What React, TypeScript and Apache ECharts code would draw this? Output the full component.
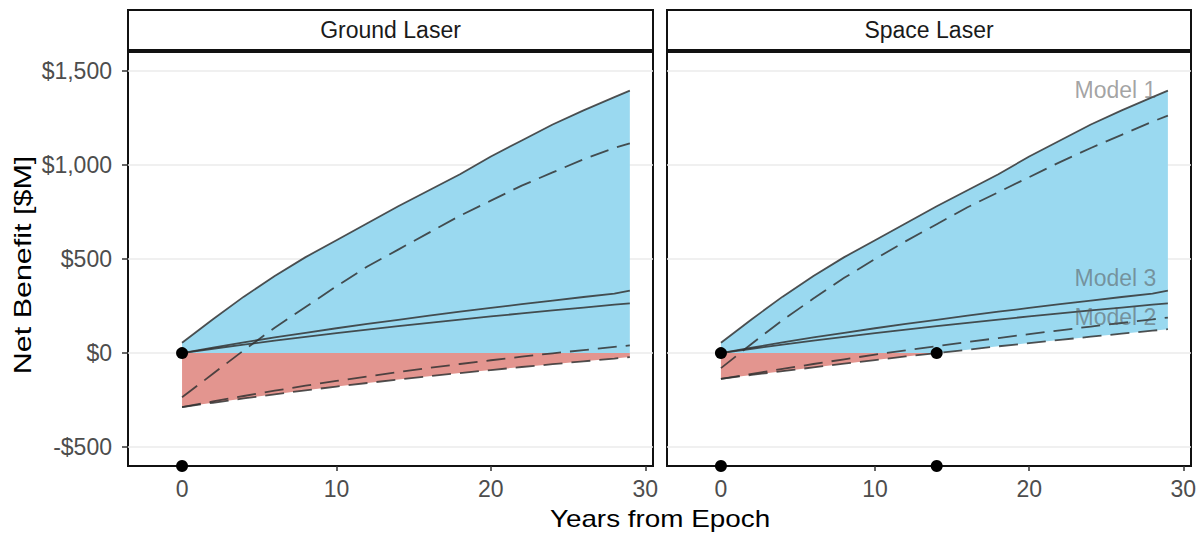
import React, { useEffect, useRef } from "react";
import * as echarts from "echarts";

// ---- data ----
const YEARS = [0, 2, 4, 6, 8, 10, 12, 14, 16, 18, 20, 22, 24, 26, 28, 29];

const M1_SOLID = [55, 180, 300, 410, 510, 600, 690, 780, 865, 950, 1045, 1130, 1215, 1290, 1360, 1395];
const M2_SOLID = [0, 23, 45, 66, 86, 106, 125, 143, 161, 178, 195, 211, 227, 242, 257, 264];
const M3_SOLID = [0, 29, 57, 83, 108, 132, 155, 177, 199, 220, 240, 260, 279, 298, 316, 332];

const GROUND_M1_DASHED = [-235, -110, 15, 135, 245, 355, 460, 550, 640, 730, 810, 890, 960, 1030, 1090, 1115];
const GROUND_M3_DASHED = [-287, -257, -228, -200, -173, -148, -124, -101, -79, -58, -38, -19, -1, 16, 33, 41];
const GROUND_M2_DASHED = [-287, -264, -241, -219, -198, -178, -159, -141, -123, -106, -90, -74, -59, -44, -29, -21];

const SPACE_M1_DASHED = [-80, 50, 175, 290, 400, 500, 595, 685, 775, 855, 935, 1015, 1090, 1160, 1230, 1262];
const SPACE_M3_DASHED = [-137, -110, -84, -58, -33, -8, 15, 37, 59, 80, 101, 121, 141, 160, 179, 189];
const SPACE_M2_DASHED = [-137, -116, -96, -76, -56, -37, -18, 0, 18, 36, 53, 70, 87, 103, 119, 127];

const PANELS = ["Ground Laser", "Space Laser"];
const BREAKEVEN_GROUND = [0];
const BREAKEVEN_SPACE = [0, 14];

const MODEL_LABELS = ["Model 1", "Model 3", "Model 2"];
const MODEL_LABEL_X = [25.6, 25.6, 25.6];
const MODEL_LABEL_Y = [1400, 400, 190];

const X_TICKS = [0, 10, 20, 30];
const Y_TICKS = [-500, 0, 500, 1000, 1500];
const Y_MIN = -600;
const Y_MAX = 1600;
const X_MIN = -3.5;
const X_MAX = 30.5;

const FONT = "'Liberation Sans', Arial, sans-serif";
const BLUE = "#9AD9F0";
const RED = "#E3958F";
const LINE = "rgba(50,50,50,0.85)";

const PANEL_LINES = [
  [
    { values: M1_SOLID, dashed: false },
    { values: M2_SOLID, dashed: false },
    { values: M3_SOLID, dashed: false },
    { values: GROUND_M1_DASHED, dashed: true },
    { values: GROUND_M2_DASHED, dashed: true },
    { values: GROUND_M3_DASHED, dashed: true },
  ],
  [
    { values: M1_SOLID, dashed: false },
    { values: M2_SOLID, dashed: false },
    { values: M3_SOLID, dashed: false },
    { values: SPACE_M1_DASHED, dashed: true },
    { values: SPACE_M2_DASHED, dashed: true },
    { values: SPACE_M3_DASHED, dashed: true },
  ],
];
const PANEL_BREAKEVEN = [BREAKEVEN_GROUND, BREAKEVEN_SPACE];

const GRID_LEFT = [128, 667];
const GRID_WIDTH = [525, 524];
const GRID_TOP = 52;
const GRID_HEIGHT = 414;

function fmtDollar(v: number): string {
  const s = Math.abs(v).toLocaleString("en-US");
  return (v < 0 ? "-$" : "$") + s;
}

function ribbonSeries(p: number, lower: number[], upper: number[], color: string) {
  return {
    type: "custom",
    xAxisIndex: p,
    yAxisIndex: p,
    silent: true,
    z: 1,
    data: YEARS.map((x, i) => [x, lower[i], upper[i]]),
    encode: { x: 0, y: [1, 2] },
    renderItem: (params: any, api: any) => {
      if (params.dataIndex !== 0) return null;
      const top = YEARS.map((x, i) => api.coord([x, upper[i]]));
      const bot = YEARS.map((x, i) => api.coord([x, lower[i]])).reverse();
      return {
        type: "polygon",
        shape: { points: top.concat(bot) },
        style: { fill: color },
      };
    },
  };
}

export default function App() {
  const ref = useRef<HTMLDivElement>(null);

  useEffect(() => {
    if (!ref.current) return;
    const chart = echarts.init(ref.current, undefined, { renderer: "svg" });

    const series: any[] = [];
    PANEL_LINES.forEach((lines, p) => {
      const lo = YEARS.map((_, i) => Math.min(...lines.map((l) => l.values[i])));
      const hi = YEARS.map((_, i) => Math.max(...lines.map((l) => l.values[i])));
      const blueLo = lo.map((v) => Math.max(v, 0));
      const blueHi = hi.map((v) => Math.max(v, 0));
      const redLo = lo.map((v) => Math.min(v, 0));
      const redHi = hi.map((v, i) => Math.max(Math.min(v, 0), redLo[i]));
      series.push(ribbonSeries(p, blueLo, blueHi, BLUE));
      series.push(ribbonSeries(p, redLo, redHi, RED));
      lines.forEach((l) => {
        series.push({
          type: "line",
          xAxisIndex: p,
          yAxisIndex: p,
          silent: true,
          z: 3,
          symbol: "none",
          showSymbol: false,
          data: YEARS.map((x, i) => [x, l.values[i]]),
          lineStyle: { color: LINE, width: 1.8, type: l.dashed ? [19, 9] : "solid" },
        });
      });
      const be = PANEL_BREAKEVEN[p];
      series.push({
        type: "scatter",
        xAxisIndex: p,
        yAxisIndex: p,
        silent: true,
        clip: false,
        z: 5,
        symbolSize: 12,
        itemStyle: { color: "#000", opacity: 1 },
        data: be.map((x) => [x, 0]).concat(be.map((x) => [x, Y_MIN])),
      });
    });

    series.push({
      type: "scatter",
      xAxisIndex: 1,
      yAxisIndex: 1,
      silent: true,
      z: 6,
      symbolSize: 1,
      itemStyle: { color: "rgba(0,0,0,0)" },
      data: MODEL_LABELS.map((n, i) => ({ value: [MODEL_LABEL_X[i], MODEL_LABEL_Y[i]], name: n })),
      label: {
        show: true,
        position: "inside",
        formatter: (d: any) => d.name,
        color: "rgba(85,85,85,0.68)",
        fontSize: 23,
        fontFamily: FONT,
      },
    });

    const axisTickStyle = { color: "#333", width: 1.5 };

    const option: any = {
      animation: false,
      grid: [0, 1].map((p) => ({
        left: GRID_LEFT[p],
        top: GRID_TOP,
        width: GRID_WIDTH[p],
        height: GRID_HEIGHT,
        show: true,
        borderColor: "#111",
        borderWidth: 2,
        backgroundColor: "transparent",
      })),
      xAxis: [0, 1].map((p) => ({
        gridIndex: p,
        type: "value",
        min: X_MIN,
        max: X_MAX,
        axisLine: { show: false, onZero: false },
        splitLine: { show: false },
        axisTick: { show: true, length: 5, lineStyle: axisTickStyle, customValues: X_TICKS },
        axisLabel: {
          customValues: X_TICKS,
          color: "#4d4d4d",
          fontSize: 23,
          fontFamily: FONT,
          margin: 11,
        },
      })),
      yAxis: [0, 1].map((p) => ({
        gridIndex: p,
        type: "value",
        min: Y_MIN,
        max: Y_MAX,
        axisLine: { show: false, onZero: false },
        splitLine: { show: true, lineStyle: { color: "#ebebeb", width: 1.6 } },
        axisTick: { show: p === 0, length: 6, lineStyle: axisTickStyle, customValues: Y_TICKS },
        axisLabel: {
          show: p === 0,
          customValues: Y_TICKS,
          formatter: (v: number) => fmtDollar(v),
          color: "#4d4d4d",
          fontSize: 23,
          fontFamily: FONT,
          margin: 16,
        },
      })),
      graphic: [
        ...PANELS.flatMap((name, p) => [
          {
            type: "rect",
            silent: true,
            shape: { x: GRID_LEFT[p], y: 10, width: GRID_WIDTH[p], height: 40 },
            style: { fill: "#fff", stroke: "#111", lineWidth: 2 },
          },
          {
            type: "text",
            silent: true,
            x: GRID_LEFT[p] + GRID_WIDTH[p] / 2,
            y: 30,
            style: {
              text: name,
              align: "center",
              verticalAlign: "middle",
              textAlign: "center",
              textVerticalAlign: "middle",
              fontSize: 23,
              fontFamily: FONT,
              fill: "#1a1a1a",
            },
          },
        ]),
        {
          type: "text",
          silent: true,
          x: 660,
          y: 519,
          scaleX: 1.16,
          style: {
            text: "Years from Epoch",
            align: "center",
            verticalAlign: "middle",
            textAlign: "center",
            textVerticalAlign: "middle",
            fontSize: 24,
            fontFamily: FONT,
            fill: "#000",
          },
        },
        {
          type: "text",
          silent: true,
          x: 23,
          y: 265,
          rotation: Math.PI / 2,
          scaleX: 1.27,
          style: {
            text: "Net Benefit [$M]",
            align: "center",
            verticalAlign: "middle",
            textAlign: "center",
            textVerticalAlign: "middle",
            fontSize: 24,
            fontFamily: FONT,
            fill: "#000",
          },
        },
      ],
      series,
    };

    chart.setOption(option);
    return () => chart.dispose();
  }, []);

  return (
    <div
      ref={ref}
      style={{ position: "fixed", left: 0, top: 0, width: 1200, height: 536, background: "#fff" }}
    />
  );
}
